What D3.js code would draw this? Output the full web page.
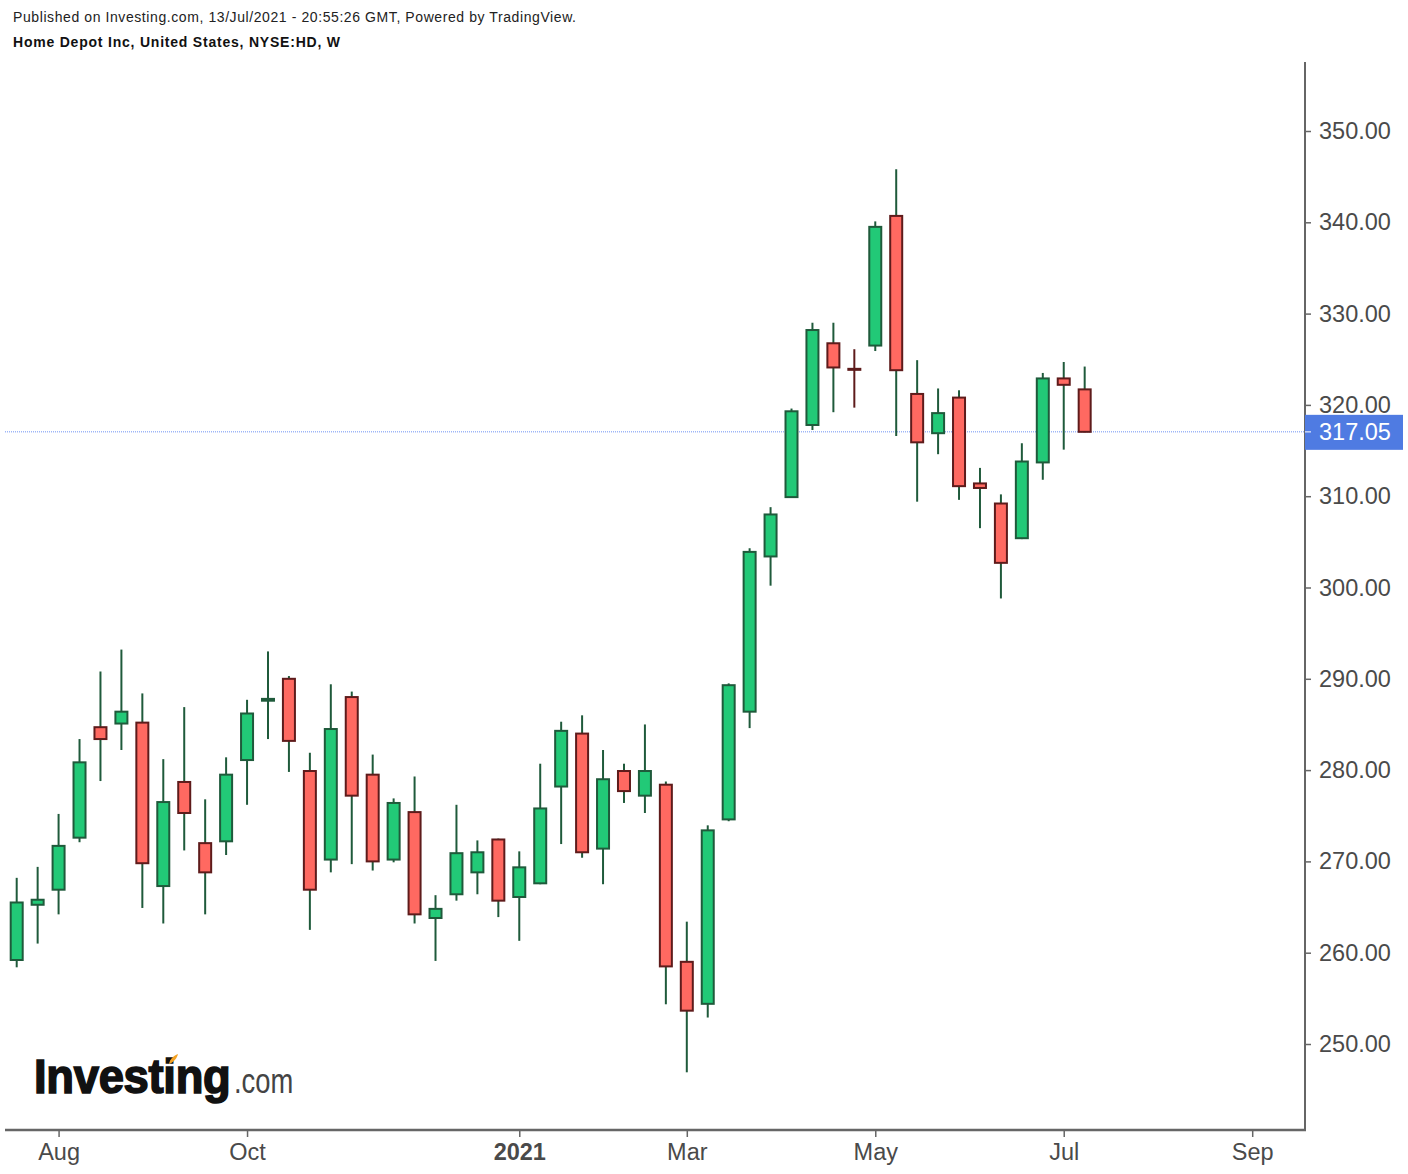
<!DOCTYPE html>
<html><head><meta charset="utf-8">
<script src="https://cdn.jsdelivr.net/npm/d3@7"></script>
<style>html,body{margin:0;padding:0;background:#fff;}svg{display:block;font-family:"Liberation Sans",Arial,sans-serif;}</style>
</head><body>
<svg id="chart" width="1408" height="1174"></svg>
<script>
const dates = ["2020-07-20","2020-07-27","2020-08-03","2020-08-10","2020-08-17","2020-08-24","2020-08-31","2020-09-07","2020-09-14","2020-09-21","2020-09-28","2020-10-05","2020-10-12","2020-10-19","2020-10-26","2020-11-02","2020-11-09","2020-11-16","2020-11-23","2020-11-30","2020-12-07","2020-12-14","2020-12-21","2020-12-28","2021-01-04","2021-01-11","2021-01-18","2021-01-25","2021-02-01","2021-02-08","2021-02-15","2021-02-22","2021-03-01","2021-03-08","2021-03-15","2021-03-22","2021-03-29","2021-04-05","2021-04-12","2021-04-19","2021-04-26","2021-05-03","2021-05-10","2021-05-17","2021-05-24","2021-05-31","2021-06-07","2021-06-14","2021-06-21","2021-06-28","2021-07-05","2021-07-12"];
const open  = [259.2,265.25,266.9,272.6,284.7,285.1,285.2,267.3,278.7,272.0,272.2,281.1,287.6,290.0,279.9,270.2,288.0,279.5,270.2,275.4,263.8,266.4,268.8,272.4,266.1,267.6,278.2,284.0,271.4,279.9,277.2,278.4,259.0,254.4,274.6,286.4,303.4,309.9,317.8,326.75,323.95,326.5,340.7,321.2,316.9,320.8,311.4,309.2,305.4,313.7,322.9,321.7];
const high  = [268.2,269.4,275.2,283.4,290.8,293.2,288.4,281.2,286.9,276.8,281.4,287.7,293.0,290.3,281.9,289.4,288.6,281.7,276.9,279.3,266.3,276.2,272.3,272.5,271.1,280.7,285.3,286.0,282.2,280.7,285.0,278.75,263.4,273.95,289.5,304.3,308.8,319.6,329.0,329.0,326.1,340.1,345.8,324.9,321.8,321.6,313.1,310.2,315.8,323.5,324.7,324.2];
const low   = [258.4,261.0,264.2,272.1,278.8,282.2,264.9,263.2,271.2,264.2,270.7,276.2,283.4,279.8,262.5,268.8,269.7,269.0,269.9,263.2,259.1,265.7,266.4,263.9,261.3,267.5,271.9,270.4,267.5,276.4,275.3,254.35,246.9,252.9,274.4,284.6,300.2,309.8,317.25,319.2,319.7,325.9,316.6,309.4,314.6,309.6,306.5,298.8,305.3,311.8,315.1,317.0];
const close = [265.5,265.8,271.7,280.85,283.4,286.4,269.8,276.5,275.3,268.8,279.5,286.2,287.8,283.2,266.9,284.5,277.2,270.0,276.4,264.2,264.8,270.9,271.0,265.7,269.35,275.8,284.3,271.0,279.0,277.7,279.9,258.5,253.65,273.4,289.3,303.9,308.0,319.3,328.2,324.1,323.85,339.5,323.8,315.9,319.1,311.1,310.9,302.7,313.8,322.9,322.2,317.05];
const yTicks = [250,260,270,280,290,300,310,320,330,340,350];
const xTickDates = ["2020-08-03","2020-10-05","2021-01-04","2021-03-01","2021-05-03","2021-07-05","2021-09-06"];
const xTickLabels = ["Aug","Oct","2021","Mar","May","Jul","Sep"];
const lastPrice = 317.05;

const svg = d3.select("#chart");
const parse = d3.utcParse("%Y-%m-%d");
const x = d3.scaleUtc().domain([parse("2020-07-20"), parse("2021-09-06")]).range([16.7, 1252.2]);
const y = d3.scaleLinear().domain([250, 350]).range([1044, 131]);

const upFill = "#22c977", dnFill = "#ff6961", upStroke = "#1f5a3b", dnStroke = "#5e1b1b", wickCol = "#1f5a3b";

// header
svg.append("text").attr("x", 13).attr("y", 22).attr("font-size", 14).attr("fill", "#222")
  .attr("textLength", 563).attr("lengthAdjust", "spacing")
  .text("Published on Investing.com, 13/Jul/2021 - 20:55:26 GMT, Powered by TradingView.");
svg.append("text").attr("x", 13).attr("y", 47).attr("font-size", 14).attr("font-weight", "bold").attr("fill", "#111")
  .attr("textLength", 327).attr("lengthAdjust", "spacing")
  .text("Home Depot Inc, United States, NYSE:HD, W");

// last price dotted line
svg.append("line").attr("x1", 5).attr("x2", 1305).attr("y1", y(lastPrice)).attr("y2", y(lastPrice))
  .attr("stroke", "#6f92f3").attr("stroke-width", 1).attr("stroke-dasharray", "1,1");

const data = dates.map((d, i) => ({d: parse(d), o: open[i], h: high[i], l: low[i], c: close[i]}));

const g = svg.append("g");
g.selectAll("line.wick").data(data).enter().append("line")
  .attr("x1", d => x(d.d)).attr("x2", d => x(d.d))
  .attr("y1", d => y(d.h)).attr("y2", d => y(d.l))
  .attr("stroke", d => (d.c >= d.o || Math.abs(d.c - d.o) > 0.2) ? wickCol : dnStroke).attr("stroke-width", 2);
g.selectAll("rect.body").data(data).enter().append("rect")
  .attr("x", d => x(d.d) - 6).attr("width", 12)
  .attr("y", d => y(Math.max(d.o, d.c)))
  .attr("height", d => Math.max(1, Math.abs(y(d.o) - y(d.c))))
  .attr("fill", d => d.c >= d.o ? upFill : dnFill)
  .attr("stroke", d => d.c >= d.o ? upStroke : dnStroke).attr("stroke-width", 2);

// right axis
svg.append("line").attr("x1", 1305).attr("x2", 1305).attr("y1", 62).attr("y2", 1131).attr("stroke", "#666").attr("stroke-width", 2);
const yAxis = d3.axisRight(y).tickValues(yTicks).tickFormat(d3.format(".2f")).tickSize(6).tickPadding(8);
const ya = svg.append("g").attr("transform", "translate(1305,0)").call(yAxis);
ya.select(".domain").remove();
ya.selectAll("line").attr("stroke", "#666").attr("stroke-width", 1.5);
ya.selectAll("text").attr("font-size", 23.5).attr("fill", "#4a4a4a").attr("font-family", "'Liberation Sans',Arial,sans-serif");

// price tag
svg.append("rect").attr("x", 1305).attr("y", y(lastPrice) - 17).attr("width", 98).attr("height", 35).attr("fill", "#4f7be2");
svg.append("line").attr("x1", 1305).attr("x2", 1311).attr("y1", y(lastPrice)).attr("y2", y(lastPrice)).attr("stroke", "#c9d6f7").attr("stroke-width", 1.5);
svg.append("text").attr("x", 1319).attr("y", y(lastPrice) + 8.5).attr("font-size", 23.5).attr("fill", "#fff").text(d3.format(".2f")(lastPrice));

// bottom axis
svg.append("line").attr("x1", 5).attr("x2", 1306).attr("y1", 1130).attr("y2", 1130).attr("stroke", "#666").attr("stroke-width", 2.5);
const xAxis = d3.axisBottom(x).tickValues(xTickDates.map(parse)).tickFormat((d, i) => xTickLabels[i]).tickSize(7).tickPadding(6);
const xa = svg.append("g").attr("transform", "translate(0,1130)").call(xAxis);
xa.select(".domain").remove();
xa.selectAll("line").attr("stroke", "#666").attr("stroke-width", 1.5);
xa.selectAll("text").attr("font-size", 23.5).attr("fill", "#4a4a4a").attr("font-family", "'Liberation Sans',Arial,sans-serif")
  .attr("font-weight", (d, i) => xTickLabels[i] === "2021" ? "bold" : "normal");

// logo
svg.append("g").attr("transform", "translate(34,1093) scale(0.945,1)")
  .append("text").attr("x", 0).attr("y", 0).attr("font-size", 48).attr("font-weight", "bold").attr("fill", "#111")
  .attr("stroke", "#111").attr("stroke-width", 1.6).attr("letter-spacing", -0.3).text("Investing");
svg.append("g").attr("transform", "translate(234,1093) scale(0.76,1)")
  .append("text").attr("x", 0).attr("y", 0).attr("font-size", 36).attr("fill", "#444").text(".com");
svg.append("path").attr("d", "M169,1064 C170,1059 173,1056 178,1054 C177,1058 174,1062 169,1064 Z").attr("fill", "#f4a223");
</script>
</body></html>
